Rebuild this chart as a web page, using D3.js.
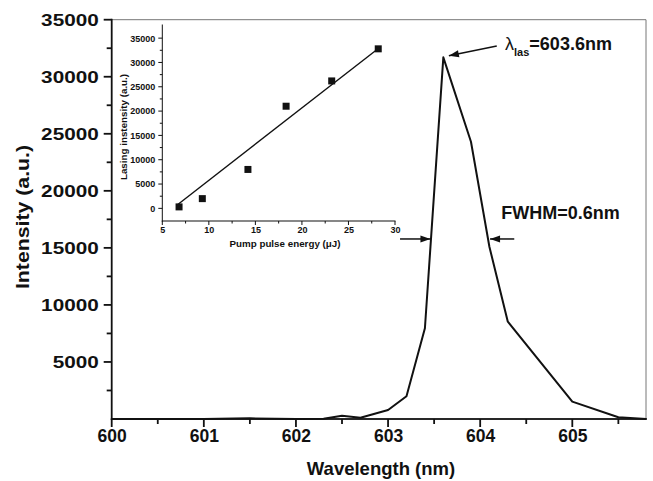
<!DOCTYPE html>
<html>
<head>
<meta charset="utf-8">
<title>Lasing spectrum</title>
<script src="https://cdn.jsdelivr.net/npm/d3@7"></script>
<style type="text/css">
  body { margin: 0; background: #fff; }
  text { font-family: "Liberation Sans", Arial, sans-serif; font-weight: bold; fill: #111; }
</style>
</head>
<body>
<div id="chart"></div>
<script type="text/javascript">
// main spectrum
var wavelength = [600, 600.5, 601, 601.5, 602, 602.3, 602.5, 602.7, 603.0, 603.2, 603.4, 603.6, 603.9, 604.1, 604.3, 605.0, 605.5, 605.8];
var intensity  = [0, 0, 0, 60, 0, 30, 290, 110, 790, 2000, 7950, 31700, 24300, 15100, 8530, 1520, 150, 0];
var xTicks = [600, 601, 602, 603, 604, 605];
var yTicks = [5000, 10000, 15000, 20000, 25000, 30000, 35000];

// inset: lasing intensity vs pump energy
var pumpEnergy = [6.8, 9.3, 14.2, 18.3, 23.2, 28.2];
var lasingIntensity = [300, 2000, 8000, 21000, 26200, 32800];
var fitEnergy = [6.6, 27.9];
var fitIntensity = [700, 32400];
var insetXTicks = [5, 10, 15, 20, 25, 30];
var insetYTicks = [0, 5000, 10000, 15000, 20000, 25000, 30000, 35000];

var width = 653, height = 481;
var svg = d3.select("#chart").append("svg")
  .attr("width", width).attr("height", height);

// axis line + ticks as thin filled rects (stroked tick lines did not show in the render)
function axisRects(cls, scale, majors, minors, len, minorLen, orient, pos, w) {
  var r = scale.range();
  var ticks = majors.map(function(v){ return [v, len]; })
    .concat(minors.map(function(v){ return [v, minorLen]; }));
  var g = svg.append("g").attr("class", cls).attr("fill", "#111");
  if (orient == "bottom") {
    g.append("rect").attr("x", Math.min(r[0], r[1]) - w / 2).attr("y", pos - w / 2)
      .attr("width", Math.abs(r[1] - r[0]) + w).attr("height", w);
    g.selectAll(".t").data(ticks).enter().append("rect").attr("class", "t")
      .attr("x", function(d){ return scale(d[0]) - w / 2; }).attr("y", pos)
      .attr("width", w).attr("height", function(d){ return d[1]; });
  } else {
    g.append("rect").attr("x", pos - w / 2).attr("y", Math.min(r[0], r[1]) - w / 2)
      .attr("width", w).attr("height", Math.abs(r[1] - r[0]) + w);
    g.selectAll(".t").data(ticks).enter().append("rect").attr("class", "t")
      .attr("x", function(d){ return pos - d[1]; }).attr("y", function(d){ return scale(d[0]) - w / 2; })
      .attr("width", function(d){ return d[1]; }).attr("height", w);
  }
}

var x = d3.scaleLinear().domain([600, 605.8]).range([111.7, 646]);
var y = d3.scaleLinear().domain([0, 35000]).range([419, 19.7]);

// frame top/right
svg.append("path")
  .attr("d", "M" + x(600) + "," + y(35000) + "H" + x(605.8) + "V" + y(0))
  .attr("fill", "none").attr("stroke", "#777").attr("stroke-width", 1);

axisRects("xaxis", x, xTicks, d3.range(600.5, 605.8, 1), 8, 5, "bottom", y(0), 1.8);
axisRects("yaxis", y, yTicks, d3.range(2500, 35000, 5000), 8, 5, "left", x(600), 1.8);

var xAxis = svg.append("g").attr("transform", "translate(0," + y(0) + ")")
  .call(d3.axisBottom(x).tickValues(xTicks).tickSize(0).tickFormat(d3.format("d")));
xAxis.select(".domain").remove();
xAxis.selectAll("line").remove();
xAxis.selectAll("text").attr("font-size", 17.5).attr("y", 11).attr("dy", "0.71em");

var yAxis = svg.append("g").attr("transform", "translate(" + x(600) + ",0)")
  .call(d3.axisLeft(y).tickValues(yTicks).tickSize(0).tickFormat(d3.format("d")));
yAxis.select(".domain").remove();
yAxis.selectAll("line").remove();
yAxis.selectAll("text").attr("font-size", 17).attr("x", -10.6)
  .attr("transform", "scale(1.22,1)");

svg.append("text").attr("text-anchor", "middle")
  .attr("transform", "translate(381,475)")
  .attr("font-size", 18.5).text("Wavelength (nm)");
svg.append("text").attr("text-anchor", "middle")
  .attr("transform", "translate(29,217) rotate(-90) scale(1.15,1)")
  .attr("font-size", 18.5).text("Intensity (a.u.)");

var line = d3.line().x(function(d){ return x(d[0]); }).y(function(d){ return y(d[1]); });
svg.append("path")
  .datum(d3.zip(wavelength, intensity))
  .attr("d", line)
  .attr("fill", "none").attr("stroke", "#111").attr("stroke-width", 2).attr("stroke-linejoin", "round");

// annotations: arrow from (x1,y1) to (x2,y2), data units
function arrow(x1, y1, x2, y2) {
  var ax = x(x1), ay = y(y1), bx = x(x2), by = y(y2);
  var ang = Math.atan2(by - ay, bx - ax) * 180 / Math.PI;
  svg.append("path")
    .attr("d", "M" + ax + "," + ay + "L" + bx + "," + by)
    .attr("stroke", "#111").attr("stroke-width", 1.5);
  svg.append("path")
    .attr("d", "M0,0L-10,-3.5L-10,3.5Z")
    .attr("transform", "translate(" + bx + "," + by + ") rotate(" + ang + ")")
    .attr("fill", "#111");
}
arrow(604.18, 32690, 603.66, 31840);
arrow(603.13, 15780, 603.46, 15780);
arrow(604.37, 15780, 604.107, 15780);

var lam = svg.append("text").attr("x", x(604.27)).attr("y", y(32340)).attr("font-size", 18);
lam.append("tspan").text("\u03bb").style("font-weight", "normal");
lam.append("tspan").text("las").attr("font-size", 11).attr("dy", 6);
lam.append("tspan").text("=603.6nm").attr("dy", -6);

svg.append("text").attr("x", x(604.23)).attr("y", y(17550)).attr("font-size", 18).text("FWHM=0.6nm");

// inset
var ix = d3.scaleLinear().domain([5, 30]).range([162.3, 395]);
var iy = d3.scaleLinear().domain([-2600, 37700]).range([221, 25]);

axisRects("ixaxis", ix, insetXTicks, d3.range(7.5, 30, 5), 4, 2.5, "bottom", iy(-2600), 1);
axisRects("iyaxis", iy, insetYTicks, d3.range(2500, 37500, 5000), 4, 2.5, "left", ix(5), 1);

var ixAxis = svg.append("g").attr("transform", "translate(0," + iy(-2600) + ")")
  .call(d3.axisBottom(ix).tickValues(insetXTicks).tickSize(0).tickFormat(d3.format("d")));
ixAxis.select(".domain").remove();
ixAxis.selectAll("line").remove();
ixAxis.selectAll("text").attr("font-size", 9).attr("y", 6);
var iyAxis = svg.append("g").attr("transform", "translate(" + ix(5) + ",0)")
  .call(d3.axisLeft(iy).tickValues(insetYTicks).tickSize(0).tickFormat(d3.format("d")));
iyAxis.select(".domain").remove();
iyAxis.selectAll("line").remove();
iyAxis.selectAll("text").attr("font-size", 9).attr("x", -7);

svg.append("text").attr("text-anchor", "middle").attr("x", 285).attr("y", 246.5)
  .attr("font-size", 9.8).text("Pump pulse energy (\u03bcJ)");
svg.append("text").attr("text-anchor", "middle")
  .attr("transform", "translate(127,127) rotate(-90)")
  .attr("font-size", 9.8).text("Lasing instensity (a.u.)");

svg.append("path")
  .datum(d3.zip(fitEnergy, fitIntensity))
  .attr("d", d3.line().x(function(d){ return ix(d[0]); }).y(function(d){ return iy(d[1]); }))
  .attr("fill", "none").attr("stroke", "#111").attr("stroke-width", 1.4);

svg.selectAll(".pt")
  .data(d3.zip(pumpEnergy, lasingIntensity))
  .enter().append("path").attr("class", "pt")
  .attr("transform", function(d){ return "translate(" + ix(d[0]) + "," + iy(d[1]) + ")"; })
  .attr("d", d3.symbol().type(d3.symbolSquare).size(49))
  .attr("fill", "#111");
</script>
</body>
</html>
